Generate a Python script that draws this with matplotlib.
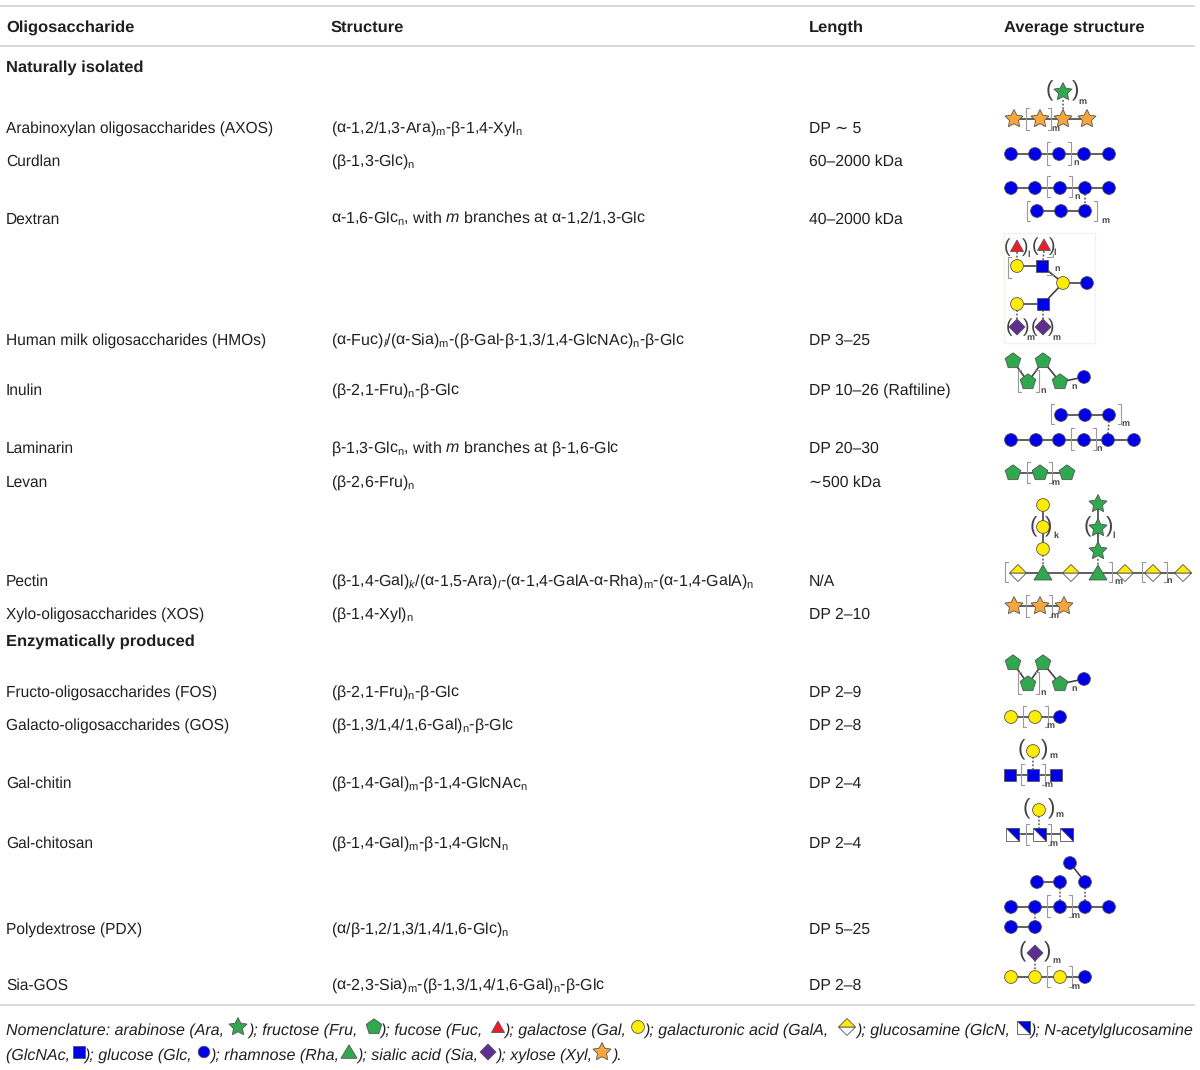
import numpy as np
import matplotlib
matplotlib.use("Agg")
import matplotlib.pyplot as plt
from matplotlib.patches import Circle, Polygon, Rectangle

plt.rcParams['font.family'] = ['Liberation Sans', 'DejaVu Sans']
plt.rcParams['mathtext.fontset'] = 'custom'
plt.rcParams['mathtext.rm'] = 'Liberation Sans'
plt.rcParams['mathtext.it'] = 'Liberation Sans:italic'
plt.rcParams['mathtext.bf'] = 'Liberation Sans:bold'
plt.rcParams['text.hinting'] = 'no_hinting'

# ---------------- table content ----------------
headers = ["Oligosaccharide", "Structure", "Length", "Average structure"]
group1 = "Naturally isolated"
group2 = "Enzymatically produced"

names = ["Arabinoxylan oligosaccharides (AXOS)", "Curdlan", "Dextran",
         "Human milk oligosaccharides (HMOs)", "Inulin", "Laminarin", "Levan",
         "Pectin", "Xylo-oligosaccharides (XOS)",
         "Fructo-oligosaccharides (FOS)", "Galacto-oligosaccharides (GOS)",
         "Gal-chitin", "Gal-chitosan", "Polydextrose (PDX)", "Sia-GOS"]
structures = [r"(α-1,2/1,3-Ara)$_{\mathrm{m}}$-β-1,4-Xyl$_{\mathrm{n}}$",
              r"(β-1,3-Glc)$_{\mathrm{n}}$",
              r"α-1,6-Glc$_{\mathrm{n}}$, with $\mathit{m}$ branches at α-1,2/1,3-Glc",
              r"(α-Fuc)$_{\mathit{l}}$/(α-Sia)$_{\mathrm{m}}$-(β-Gal-β-1,3/1,4-GlcNAc)$_{\mathrm{n}}$-β-Glc",
              r"(β-2,1-Fru)$_{\mathrm{n}}$-β-Glc",
              r"β-1,3-Glc$_{\mathrm{n}}$, with $\mathit{m}$ branches at β-1,6-Glc",
              r"(β-2,6-Fru)$_{\mathrm{n}}$",
              r"(β-1,4-Gal)$_{\mathit{k}}$/(α-1,5-Ara)$_{\mathit{l}}$-(α-1,4-GalA-α-Rha)$_{\mathrm{m}}$-(α-1,4-GalA)$_{\mathrm{n}}$",
              r"(β-1,4-Xyl)$_{\mathrm{n}}$",
              r"(β-2,1-Fru)$_{\mathrm{n}}$-β-Glc",
              r"(β-1,3/1,4/1,6-Gal)$_{\mathrm{n}}$-β-Glc",
              r"(β-1,4-Gal)$_{\mathrm{m}}$-β-1,4-GlcNAc$_{\mathrm{n}}$",
              r"(β-1,4-Gal)$_{\mathrm{m}}$-β-1,4-GlcN$_{\mathrm{n}}$",
              r"(α/β-1,2/1,3/1,4/1,6-Glc)$_{\mathrm{n}}$",
              r"(α-2,3-Sia)$_{\mathrm{m}}$-(β-1,3/1,4/1,6-Gal)$_{\mathrm{n}}$-β-Glc"]
lengths = ["DP ∼ 5", "60–2000 kDa", "40–2000 kDa", "DP 3–25", "DP 10–26 (Raftiline)",
           "DP 20–30", "∼500 kDa", "N/A", "DP 2–10", "DP 2–9", "DP 2–8", "DP 2–4",
           "DP 2–4", "DP 5–25", "DP 2–8"]

foot1 = ["Nomenclature: arabinose (Ara, ", "); fructose (Fru, ", "); fucose (Fuc, ",
         "); galactose (Gal, ", "); galacturonic acid (GalA, ", "); glucosamine (GlcN, ",
         "); N-acetylglucosamine"]
foot1_syms = ["ara", "fru", "fuc", "gal", "gala", "glcn"]
foot2 = ["(GlcNAc, ", "); glucose (Glc, ", "); rhamnose (Rha, ", "); sialic acid (Sia, ",
         "); xylose (Xyl, ", ")."]
foot2_syms = ["glcnac", "glc", "rha", "sia", "xyl"]

# ---------------- layout (pixels of the figure) ----------------
col_x = [6, 331, 809, 1004]
row_y = [127, 160, 218, 339, 389, 447, 481, 580, 613, 691, 724, 782, 842, 928, 984]
foot1_x = [6, 249, 381, 505, 645, 857, 1031]
foot1_sym_x = [238, 374, 498, 638, 847, 1023]
foot2_x = [6, 85, 211, 358, 497, 613]
foot2_sym_x = [79, 204, 349, 488, 602]

TXT = "#231f20"
BLUE = "#0000e6"
YELLOW = "#ffec00"
GREEN = "#2fa84f"
ORANGE = "#f6a63c"
RED = "#ee1c25"
PURPLE = "#5f2e91"
EDGE = "#555555"
FS_NAME = 11.2
FS_STRUCT = 11.5
FS_LEN = 11.3
FS_BOLD = 11.85
FS_FOOT = 11.5
BASE = 5.5  # baseline sits this far below the middle of a row

fig = plt.figure(figsize=(12, 10.7), dpi=100)
ax = fig.add_axes([0, 0, 1, 1])
ax.set_xlim(0, 1200)
ax.set_ylim(1070, 0)
ax.axis("off")


def regular_poly(x, y, r, n, rot=-90):
    ang = np.radians(rot + np.arange(n) * 360 / n)
    return np.column_stack([x + r * np.cos(ang), y + r * np.sin(ang)])


def star_pts(x, y, r):
    ang = np.radians(-90 + np.arange(10) * 36)
    rad = np.where(np.arange(10) % 2 == 0, r, r * 0.5)
    return np.column_stack([x + rad * np.cos(ang), y + rad * np.sin(ang)])


def poly(pts, color):
    ax.add_patch(Polygon(pts, closed=True, fc=color, ec=EDGE, lw=0.6, zorder=4))


def node(kind, x, y, s=1.0):
    if kind in ("glc", "gal"):
        ax.add_patch(Circle((x, y), 6.4 * s, fc=BLUE if kind == "glc" else YELLOW, ec=EDGE, lw=0.6, zorder=4))
    elif kind == "glcnac":
        ax.add_patch(Rectangle((x - 6, y - 6), 12, 12, fc=BLUE, ec=EDGE, lw=0.6, zorder=4))
    elif kind == "glcn":
        poly([(x - 6.5, y - 6.5), (x + 6.5, y - 6.5), (x + 6.5, y + 6.5), (x - 6.5, y + 6.5)], "white")
        poly([(x - 6.5, y - 6.5), (x + 6.5, y - 6.5), (x + 6.5, y + 6.5)], BLUE)
    elif kind == "ara":
        poly(star_pts(x, y, 9.5), GREEN)
    elif kind == "xyl":
        poly(star_pts(x, y, 9.5), ORANGE)
    elif kind == "fru":
        poly(regular_poly(x, y, 8.2, 5), GREEN)
    elif kind == "fuc":
        poly([(x, y - 6), (x + 6.5, y + 5.5), (x - 6.5, y + 5.5)], RED)
    elif kind == "rha":
        poly([(x, y - 8 * s), (x + 9 * s, y + 7 * s), (x - 9 * s, y + 7 * s)], GREEN)
    elif kind == "sia":
        poly(regular_poly(x, y, 8, 4), PURPLE)
    elif kind == "gala":
        poly([(x - 8.5, y), (x, y + 8.5), (x + 8.5, y)], "white")
        poly([(x - 8.5, y), (x, y - 8.5), (x + 8.5, y)], YELLOW)


def row(kinds, xs, y):
    # a chain of residues joined by a solid line
    ax.plot([xs[0], xs[-1]], [y, y], color="#444444", lw=1.2, zorder=2)
    if isinstance(kinds, str):
        kinds = [kinds] * len(xs)
    for k, x in zip(kinds, xs):
        node(k, x, y)


def link(x0, y0, x1, y1):
    ax.plot([x0, x1], [y0, y1], color="#444444", lw=1.2, zorder=2)


def dots(x0, y0, x1, y1):
    ax.plot([x0, x1], [y0, y1], color="#555555", lw=1.1, ls=(0, (1.2, 1.2)), zorder=2)


def small(x, y, s):
    ax.text(x + 2, y, s, fontsize=6.5, fontweight="bold", color="#444444", ha="center", va="center", zorder=5)


def bracket(x0, x1, y0, y1, label=None, lx=None, ly=None):
    for x, d in ((x0, 3), (x1, -3)):
        ax.plot([x + d, x, x, x + d], [y0, y0, y1, y1], color="#9a9a9a", lw=0.8, zorder=3)
    if label:
        small(x1 + 3 if lx is None else lx, y1 - 1 if ly is None else ly, label)


def parens(x0, x1, y, label, lx, ly, fs=16):
    ax.text(x0, y, "(", fontsize=fs, color="#444444", ha="center", va="center", zorder=5)
    ax.text(x1, y, ")", fontsize=fs, color="#444444", ha="center", va="center", zorder=5)
    small(lx, ly, label)


# ---------------- rules and text ----------------
for y in (6, 46, 1005):
    ax.plot([0, 1194], [y, y], color="#d2d2d2", lw=1.2, zorder=1)

for x, h in zip(col_x, headers):
    ax.text(x, 26 + BASE, h, fontsize=FS_BOLD, fontweight="bold", color=TXT, va="baseline")
ax.text(col_x[0], 66 + BASE, group1, fontsize=FS_BOLD, fontweight="bold", color=TXT, va="baseline")
ax.text(col_x[0], 640 + BASE, group2, fontsize=FS_BOLD, fontweight="bold", color=TXT, va="baseline")

for y, n, s, l in zip(row_y, names, structures, lengths):
    ax.text(col_x[0], y + BASE, n, fontsize=FS_NAME, color=TXT, va="baseline")
    ax.text(col_x[1], y + BASE, s, fontsize=FS_STRUCT, color=TXT, va="baseline")
    ax.text(col_x[2], y + BASE, l, fontsize=FS_LEN, color=TXT, va="baseline")

for x, s in zip(foot1_x, foot1):
    ax.text(x, 1029 + BASE, s, fontsize=FS_FOOT, style="italic", color=TXT, va="baseline")
for x, k in zip(foot1_sym_x, foot1_syms):
    node(k, x, 1027)
for x, s in zip(foot2_x, foot2):
    ax.text(x, 1054 + BASE, s, fontsize=FS_FOOT, style="italic", color=TXT, va="baseline")
for x, k in zip(foot2_sym_x, foot2_syms):
    node(k, x, 1052, 0.9)

# ---------------- glycan cartoons ----------------
# AXOS
row("xyl", [1014, 1040, 1063, 1087], 119)
node("ara", 1063, 92)
dots(1063, 100, 1063, 111)
parens(1049, 1076, 91, "m", 1080, 102)
bracket(1026, 1051, 108, 130, "m", 1053, 129)

# Curdlan
row("glc", [1011, 1035, 1059, 1084, 1109], 154)
bracket(1047, 1071, 142, 165, "n", 1074, 163)

# Dextran
row("glc", [1011, 1035, 1060, 1085, 1109], 188)
bracket(1047, 1072, 176, 197, "n", 1075, 197)
row("glc", [1037, 1061, 1085], 211)
dots(1085, 194, 1085, 205)
bracket(1027, 1097, 201, 221, "m", 1103, 221)

# HMOs, sits in a pale box
ax.add_patch(Rectangle((1004, 233), 91, 110, fc="white", ec="#f3f3ea", lw=1, zorder=1))
row(["gal", "glcnac"], [1017, 1042], 266)
row(["gal", "glcnac"], [1017, 1043], 304)
row(["gal", "glc"], [1063, 1087], 283)
link(1042, 266, 1063, 283)
link(1043, 304, 1063, 283)
node("fuc", 1017, 246)
node("fuc", 1044, 245)
node("sia", 1017, 327)
node("sia", 1043, 327)
for x0, x1, y0, y1 in [(1017, 1017, 252, 260), (1044, 1043, 251, 260), (1017, 1017, 310, 319), (1043, 1043, 310, 319)]:
    dots(x0, y0, x1, y1)
parens(1007, 1025, 247, "l", 1027, 255, fs=14)
parens(1035, 1052, 246, "l", 1053, 253, fs=14)
parens(1009, 1026, 327, "m", 1028, 338, fs=14)
parens(1034, 1051, 327, "m", 1054, 338, fs=14)
ax.plot([1011, 1008, 1008, 1011], [257, 257, 278, 278], color="#9a9a9a", lw=0.8, zorder=3)
ax.plot([1047, 1053, 1053], [257, 257, 254], color="#9a9a9a", lw=0.8, zorder=3)
ax.plot([1047, 1053], [275, 275], color="#9a9a9a", lw=0.8, zorder=3)
small(1055, 269, "n")

# Inulin and FOS use the same cartoon
for dy in (0, 302):
    link(1013, 361 + dy, 1028, 382 + dy)
    link(1028, 382 + dy, 1043, 361 + dy)
    link(1043, 361 + dy, 1060, 382 + dy)
    link(1060, 382 + dy, 1084, 377 + dy)
    for x, y in [(1013, 361), (1043, 361), (1028, 382), (1060, 382)]:
        node("fru", x, y + dy)
    node("glc", 1084, 377 + dy)
    bracket(1018, 1039, 370 + dy, 392 + dy, "n", 1041, 391 + dy)
    small(1072, 387 + dy, "n")

# Laminarin
row("glc", [1061, 1085, 1109], 415)
bracket(1051, 1121, 404, 424, "m", 1123, 424)
row("glc", [1011, 1036, 1059, 1084, 1108, 1134], 440)
dots(1109, 421, 1108, 434)
bracket(1071, 1096, 428, 450, "n", 1097, 449)

# Levan
row("fru", [1013, 1040, 1067], 473)
bracket(1027, 1052, 462, 483, "m", 1053, 483)

# Pectin
row(["gala", "rha", "gala", "rha", "gala", "gala", "gala"], [1018, 1043, 1071, 1098, 1125, 1153, 1183], 573)
link(1183, 573, 1191, 573)
for y in (505, 527, 549):
    node("gal", 1043, y)
link(1043, 505, 1043, 549)
for y in (504, 528, 551):
    node("ara", 1098, y)
link(1098, 504, 1098, 551)
dots(1043, 555, 1043, 565)
dots(1098, 559, 1098, 565)
parens(1033, 1049, 527, "k", 1054, 536)
parens(1087, 1110, 527, "l", 1112, 536)
bracket(1005, 1112, 562, 582, "m", 1116, 582)
bracket(1142, 1167, 562, 582, "n", 1167, 581)

# XOS
row("xyl", [1014, 1040, 1064], 606)
bracket(1026, 1052, 595, 617, "m", 1052, 616)

# GOS
row(["gal", "gal", "glc"], [1011, 1035, 1060], 717)
bracket(1023, 1048, 706, 727, "m", 1048, 726)

# Gal-chitin
row("glcnac", [1010, 1033, 1056], 775)
node("gal", 1033, 751)
dots(1033, 757, 1033, 769)
parens(1021, 1045, 750, "m", 1051, 756)
bracket(1021, 1045, 764, 785, "m", 1046, 785)

# Gal-chitosan
row("glcn", [1012, 1039, 1066], 834)
node("gal", 1039, 810)
dots(1039, 816, 1039, 828)
parens(1026, 1052, 809, "m", 1057, 815)
bracket(1026, 1051, 824, 845, "m", 1051, 844)

# PDX
row("glc", [1011, 1035, 1060, 1085, 1109], 907)
row("glc", [1037, 1060], 882)
row("glc", [1011, 1035], 927)
link(1070, 863, 1085, 882)
node("glc", 1070, 863)
node("glc", 1085, 882)
dots(1060, 888, 1060, 901)
dots(1085, 888, 1085, 901)
dots(1035, 913, 1035, 921)
bracket(1047, 1072, 895, 917, "m", 1073, 916)

# Sia-GOS
row(["gal", "gal", "gal", "glc"], [1011, 1035, 1060, 1085], 977)
node("sia", 1035, 953)
dots(1035, 960, 1035, 971)
parens(1022, 1048, 952, "m", 1054, 961)
bracket(1047, 1072, 966, 987, "m", 1073, 987)

fig.savefig("out.png", dpi=100)
